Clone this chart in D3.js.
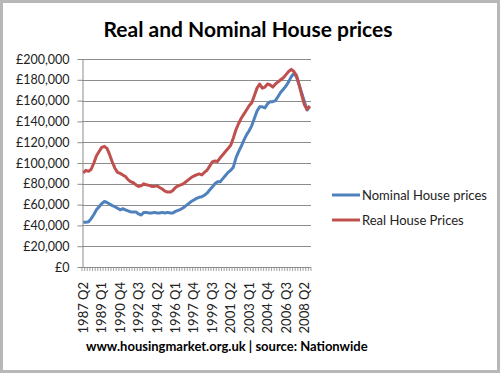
<!DOCTYPE html>
<html>
<head>
<meta charset="utf-8">
<script src="https://cdn.jsdelivr.net/npm/d3@7"></script>
<style>
  body { margin: 0; background: #fff; }
  svg { display: block; }
</style>
</head>
<body>
<svg id="chart"></svg>
<script>
// Real and Nominal house prices, Nationwide, quarterly 1987 Q2 - 2008 Q4

// category axis: every quarter
const quarters = [];
for (let y = 1987; y <= 2008; y++) {
  for (let q = 1; q <= 4; q++) {
    if (y === 1987 && q === 1) continue;
    quarters.push(y + " Q" + q);
  }
}

// labels Excel actually printed (every 7th quarter)
const shownLabels = ["1987 Q2", "1989 Q1", "1990 Q4", "1992 Q3", "1994 Q2", "1996 Q1",
  "1997 Q4", "1999 Q3", "2001 Q2", "2003 Q1", "2004 Q4", "2006 Q3", "2008 Q2"];

const yTicks = [0, 20000, 40000, 60000, 80000, 100000, 120000, 140000, 160000, 180000, 200000];

// values in £ thousands
const nominal = [
  43, 43, 43.5, 46.5, 50.5, 55, 58, 61, 63, 62,
  60.5, 59, 58, 56.5, 55, 56, 55, 54, 53, 53,
  53, 51, 50, 52.5, 52.5, 52, 52, 52.5, 52, 52,
  52.5, 52, 52.5, 52, 52, 53.5, 54.5, 55.5, 57, 59,
  61, 63, 64.5, 66, 67, 67.5, 69, 71, 74, 77,
  80, 82, 82, 85, 88, 91, 93, 96, 105, 111,
  116, 122, 127, 131, 136, 143, 150, 154, 154, 153,
  157, 159, 159, 160, 164, 168, 171, 174, 178, 183,
  186, 183, 175, 167, 159, 151, 154
];

const real = [
  90.5, 93, 92, 94, 100, 107, 111, 115, 116, 114,
  108, 101, 95, 91, 90, 88.5, 87, 84, 82, 81,
  79, 77.5, 78, 80, 79, 78.5, 77.5, 77.5, 78, 76.5,
  75, 73, 72, 72, 73.5, 76.5, 78, 79, 80, 82,
  84, 86, 87.5, 88.5, 89.5, 88.5, 91, 93, 97, 101,
  102, 101.5, 105, 108, 111, 114, 117, 124, 132, 138,
  143, 147, 151, 155, 158, 165, 172, 176, 172, 173,
  176, 175, 173, 176, 178, 180, 182, 185, 188, 190,
  188, 184, 175, 165, 156, 151.5, 155
];

const seriesNames = ["Nominal House prices", "Real House Prices"];
const seriesColors = ["#4F81BD", "#C0504D"];

const W = 500, H = 373;
const font = "Lato, 'Open Sans', sans-serif";

const svg = d3.select("#chart").attr("width", W).attr("height", H);

svg.append("rect").attr("width", W).attr("height", H).attr("fill", "#fff");

// frame round the picture
svg.append("rect")
  .attr("x", 1.5).attr("y", 1.5)
  .attr("width", W - 3).attr("height", H - 3)
  .attr("fill", "none").attr("stroke", "#b8b8b8").attr("stroke-width", 3);

const plot = { left: 82, right: 311, top: 59, bottom: 267 };

const x = d3.scaleBand().domain(quarters).range([plot.left, plot.right]).padding(0);
const y = d3.scaleLinear().domain([0, 200000]).range([plot.bottom, plot.top]);

// title
svg.append("text")
  .attr("x", 248).attr("y", 37)
  .attr("text-anchor", "middle")
  .style("font-family", font).style("font-weight", "700").style("font-size", "21px")
  .text("Real and Nominal House prices");

// gridlines
svg.append("g")
  .selectAll("line")
  .data(yTicks.filter(d => d > 0))
  .join("line")
  .attr("x1", plot.left).attr("x2", plot.right)
  .attr("y1", d => Math.round(y(d)) + 0.5).attr("y2", d => Math.round(y(d)) + 0.5)
  .attr("stroke", "#8c8c8c").attr("stroke-width", 1);

// y axis
const yAxis = svg.append("g")
  .attr("transform", `translate(${plot.left + 0.5},0)`)
  .call(d3.axisLeft(y).tickValues(yTicks).tickSize(5).tickSizeOuter(0)
    .tickFormat(d => "£" + d3.format(",")(d)));
yAxis.select(".domain").attr("stroke", "#8c8c8c");
yAxis.selectAll(".tick line").attr("stroke", "#8c8c8c");
yAxis.selectAll(".tick text")
  .attr("x", -13)
  .style("font-family", font).style("font-size", "12.5px").attr("fill", "#222");

// x axis line + a tick between every pair of quarters
const xg = svg.append("g");
xg.append("line")
  .attr("x1", plot.left).attr("x2", plot.right)
  .attr("y1", plot.bottom + 0.5).attr("y2", plot.bottom + 0.5)
  .attr("stroke", "#8c8c8c");
xg.selectAll("line.tk")
  .data(quarters.map(q => x(q)).concat([plot.right]))
  .join("line").attr("class", "tk")
  .attr("x1", d => d).attr("x2", d => d)
  .attr("y1", plot.bottom).attr("y2", plot.bottom + 4)
  .attr("stroke", "#8c8c8c").attr("stroke-width", 0.8);

xg.selectAll("text")
  .data(shownLabels)
  .join("text")
  .attr("transform", d => `translate(${x(d) + x.bandwidth() / 2},282) rotate(-90)`)
  .attr("text-anchor", "end")
  .attr("dy", "0.35em")
  .style("font-family", font).style("font-size", "13px").attr("fill", "#222")
  .text(d => d);

// lines
const line = d3.line()
  .x((d, i) => x(quarters[i]) + x.bandwidth() / 2)
  .y(d => y(d * 1000))
  .curve(d3.curveLinear);

[nominal, real].forEach((vals, k) => {
  svg.append("path")
    .datum(vals)
    .attr("d", line)
    .attr("fill", "none")
    .attr("stroke", seriesColors[k])
    .attr("stroke-width", 3)
    .attr("stroke-linejoin", "round");
});

// legend
const legend = svg.append("g");
seriesNames.forEach((name, k) => {
  const ly = 195 + k * 25;
  legend.append("line")
    .attr("x1", 332).attr("x2", 360).attr("y1", ly).attr("y2", ly)
    .attr("stroke", seriesColors[k]).attr("stroke-width", 3);
  legend.append("text")
    .attr("x", 362).attr("y", ly).attr("dy", "0.35em")
    .style("font-family", font).style("font-size", "13px").attr("fill", "#222")
    .text(name);
});

// source line
svg.append("text")
  .attr("x", 86).attr("y", 351)
  .style("font-family", font).style("font-weight", "700").style("font-size", "13px")
  .text("www.housingmarket.org.uk | source: Nationwide");
</script>
</body>
</html>
